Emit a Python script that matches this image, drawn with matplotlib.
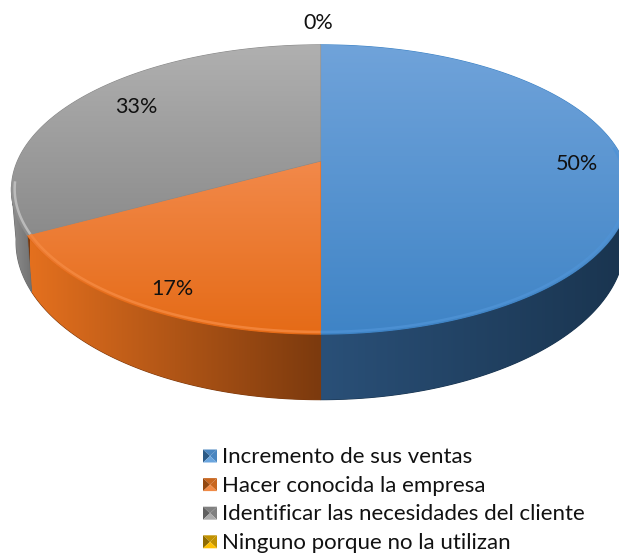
import numpy as np
import matplotlib
matplotlib.use("Agg")
import matplotlib.pyplot as plt
from matplotlib.colors import LinearSegmentedColormap
from matplotlib.patches import Polygon

plt.rcParams["font.family"] = ["Lato", "DejaVu Sans"]

categories = ["Incremento de sus ventas", "Hacer conocida la empresa",
              "Identificar las necesidades del cliente", "Ninguno porque no la utilizan"]
values = [50, 17, 33, 0]

top_colors = [("#70A3DA", "#3F84C6"), ("#F2894A", "#E56B17"), ("#B0B0B0", "#8A8A8A"), ("#FFC000", "#E0A800")]
side_colors = [("#2A5078", "#1A3550"), ("#E4701E", "#7C3A0E"), ("#8C8C8C", "#6C6C6C"), ("#A07800", "#7F6000")]
rim_colors = ["#4F93D6", "#F58A42", "#C6C6C6", "#FFC000"]
legend_colors = [("#2B5A86", "#4A86C0", "#6AA5DE"), ("#94480F", "#C8661F", "#F08A45"),
                 ("#5F5F5F", "#808080", "#ABABAB"), ("#8F6B00", "#C29200", "#FFC000")]
label_radius = [0.85, 0.85, 0.78, 1.245]
label_nudge = [(-1, 3), (5, 9), (4, -3), (-2, 1)]

# perspective of the pie disc, in pixels
CX, CY = 320.5, 161
A, B, K = 303, 139, 0.197


def rim(theta, r=1.0, sx=1.0, sy=1.0, dy=0.0):
    u, v = r * np.sin(theta), r * np.cos(theta)
    w = 1 + K * v
    return CX + sx * A * u / w, CY + dy - sy * B * v / w


def lower_rim(theta):
    return rim(theta, sx=0.985, sy=1.09, dy=50)


def fill_gradient(ax, pts, c1, c2, horizontal=False, span=None):
    # solid base under the image so no white seam shows between slices
    base = Polygon(pts, closed=True, fc=c2, ec=c2, lw=0.8, zorder=1, transform=ax.transData)
    ax.add_patch(base)
    clip = Polygon(pts, closed=True, fc="none", ec="none", zorder=1, transform=ax.transData)
    ax.add_patch(clip)
    cmap = LinearSegmentedColormap.from_list("g", [c1, c2])
    xs, ys = pts[:, 0], pts[:, 1]
    grad = np.linspace(0, 1, 256)
    grad = grad.reshape(1, -1) if horizontal else grad.reshape(-1, 1)
    x0, x1 = span if horizontal else (xs.min(), xs.max())
    y0, y1 = span if not horizontal else (ys.min(), ys.max())
    im = ax.imshow(grad, cmap=cmap, extent=(x0, x1, y1, y0), origin="upper", aspect="auto",
                   interpolation="bilinear", zorder=1)
    im.set_clip_path(clip)


fig = plt.figure(figsize=(6.19, 5.59), dpi=100)
ax = fig.add_axes([0, 0, 1, 1])

fracs = np.array(values) / sum(values)
ends = np.cumsum(fracs) * 2 * np.pi
starts = ends - fracs * 2 * np.pi
sil = np.arccos(-K)

# sides first, only the part turned to the viewer
side_spans = [(320, 620), (30, 320), (13, 36)]
for i, val in enumerate(values):
    if val == 0:
        continue
    t = np.linspace(starts[i], ends[i], 400)
    t = t[(t > sil - 0.02) & (t < 2 * np.pi - sil + 0.02)]
    x1, y1 = rim(t)
    x2, y2 = lower_rim(t)
    pts = np.column_stack([np.r_[x1, x2[::-1]], np.r_[y1, y2[::-1]]])
    fill_gradient(ax, pts, side_colors[i][0], side_colors[i][1], horizontal=True, span=side_spans[i])

# top faces
top_spans = [(44, 333), (161, 333), (44, 240)]
for i, val in enumerate(values):
    if val == 0:
        continue
    t = np.linspace(starts[i], ends[i], 400)
    x, y = rim(t)
    pts = np.column_stack([np.r_[CX, x], np.r_[CY, y]])
    fill_gradient(ax, pts, top_colors[i][0], top_colors[i][1], span=top_spans[i])

# bevel along the rim
for i, val in enumerate(values):
    if val == 0:
        continue
    t = np.linspace(starts[i], ends[i], 400)
    if i == 2:
        t = t[t < np.radians(262)]
    else:
        t = t[(t > sil - 0.3) & (t < 2 * np.pi - sil + 0.3)]
    x, y = rim(t, r=0.99)
    ax.plot(x, y, color=rim_colors[i], lw=1.8, alpha=0.8, solid_capstyle="butt", zorder=2)

# data labels
mids = (starts + ends) / 2
for i, val in enumerate(values):
    x, y = rim(mids[i], r=label_radius[i])
    ax.text(x + label_nudge[i][0], y + label_nudge[i][1], "%d%%" % val, ha="center", va="center",
            fontsize=15.5, color="#111111", zorder=3)

# legend
row_h = 28.6
for i, name in enumerate(categories):
    yc = 456 + i * row_h
    x0, x1, y0, y1 = 203, 217, yc - 6.5, yc + 6.5
    xm, ym = (x0 + x1) / 2, (y0 + y1) / 2
    dark, mid, light = legend_colors[i]
    ax.add_patch(Polygon([[x0, y0], [x1, y0], [xm, ym]], fc=mid, ec="none"))
    ax.add_patch(Polygon([[x0, y0], [x0, y1], [xm, ym]], fc=dark, ec="none"))
    ax.add_patch(Polygon([[x1, y0], [x1, y1], [xm, ym]], fc=mid, ec="none"))
    ax.add_patch(Polygon([[x0, y1], [x1, y1], [xm, ym]], fc=light, ec="none"))
    ax.text(222, yc + 1, name, ha="left", va="center", fontsize=16, color="#111111")

ax.set_xlim(0, 619)
ax.set_ylim(559, 0)
ax.axis("off")
fig.savefig("out.png", dpi=100)
